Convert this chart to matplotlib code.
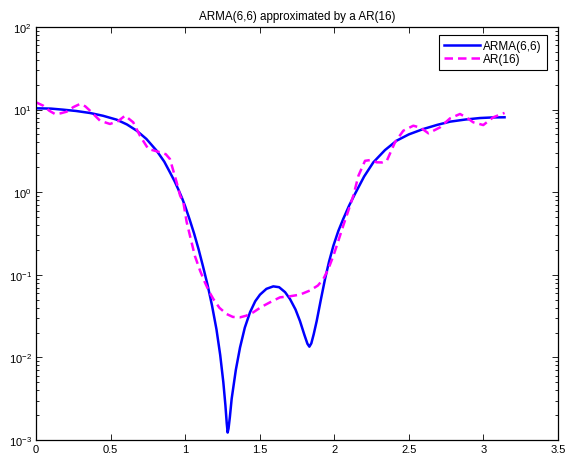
import numpy as np
import matplotlib
matplotlib.use("Agg")
import matplotlib.pyplot as plt
from matplotlib.ticker import FixedLocator, FuncFormatter, LogLocator, NullFormatter

plt.rcParams['font.family'] = ['Liberation Sans', 'DejaVu Sans']
plt.rcParams['mathtext.fontset'] = 'custom'
plt.rcParams['mathtext.rm'] = 'Liberation Sans'
plt.rcParams['mathtext.it'] = 'Liberation Sans'

title = "ARMA(6,6) approximated by a AR(16)"
labels = ["ARMA(6,6)", "AR(16)"]

# ARMA(6,6) spectrum (frequency, log10 value)
arma_x = [0.0, 0.1, 0.183, 0.27, 0.362, 0.45, 0.541, 0.61, 0.675, 0.74, 0.809, 0.86,
          0.898, 0.93, 0.954, 0.98, 1.0, 1.03, 1.06, 1.09, 1.12, 1.15, 1.18, 1.21,
          1.235, 1.256, 1.27, 1.279, 1.285, 1.291, 1.3, 1.312, 1.34, 1.368,
          1.40, 1.435, 1.47, 1.502, 1.545, 1.591, 1.63, 1.67, 1.703, 1.74, 1.77,
          1.80, 1.82, 1.833, 1.846, 1.862, 1.882, 1.91, 1.938, 1.965, 1.994, 2.027,
          2.06, 2.1, 2.139, 2.2, 2.262, 2.34, 2.418, 2.5, 2.597, 2.69, 2.776, 2.88,
          2.977, 3.06, 3.1416]
arma_log = [1.016, 1.012, 0.999, 0.983, 0.959, 0.925, 0.878, 0.82, 0.745, 0.645, 0.502,
            0.37, 0.241, 0.13, 0.035, -0.075, -0.17, -0.33, -0.50, -0.69, -0.90, -1.12,
            -1.37, -1.66, -1.97, -2.30, -2.58, -2.80, -2.91, -2.86, -2.72, -2.50, -2.15,
            -1.88, -1.64, -1.454, -1.32, -1.24, -1.17, -1.14, -1.15, -1.21, -1.293,
            -1.42, -1.56, -1.73, -1.835, -1.87, -1.83, -1.72, -1.56, -1.30, -1.05,
            -0.84, -0.648, -0.47, -0.324, -0.16, -0.02, 0.19, 0.362, 0.51, 0.624,
            0.70, 0.765, 0.815, 0.854, 0.88, 0.898, 0.905, 0.907]

# AR(16) spectrum (frequency, log10 value)
ar_x = [0.0, 0.049, 0.09, 0.127, 0.165, 0.206, 0.25, 0.295, 0.33, 0.362, 0.429, 0.496,
        0.55, 0.597, 0.652, 0.697, 0.753, 0.80, 0.832, 0.87, 0.898, 0.943, 0.966,
        0.988, 1.01, 1.065, 1.10, 1.132, 1.16, 1.188, 1.23, 1.278, 1.32, 1.368,
        1.41, 1.457, 1.51, 1.569, 1.636, 1.703, 1.77, 1.837, 1.89, 1.927, 1.96,
        1.994, 2.027, 2.06, 2.095, 2.128, 2.162, 2.206, 2.245, 2.284, 2.32, 2.352,
        2.407, 2.463, 2.53, 2.58, 2.631, 2.709, 2.776, 2.843, 2.89, 2.932, 2.999,
        3.066, 3.1416]
ar_log = [1.088, 1.047, 0.985, 0.947, 0.955, 0.975, 1.03, 1.068, 1.04, 0.987, 0.866,
          0.826, 0.86, 0.926, 0.846, 0.684, 0.523, 0.50, 0.483, 0.46, 0.402, 0.12,
          -0.04, -0.122, -0.36, -0.77, -0.95, -1.09, -1.20, -1.29, -1.40, -1.475,
          -1.51, -1.515, -1.495, -1.454, -1.39, -1.333, -1.273, -1.26, -1.24, -1.19,
          -1.13, -1.05, -0.93, -0.77, -0.59, -0.405, -0.22, -0.04, 0.2, 0.38, 0.39,
          0.362, 0.36, 0.38, 0.604, 0.745, 0.805, 0.78, 0.713, 0.785, 0.894, 0.947,
          0.90, 0.846, 0.813, 0.907, 0.96]

fig = plt.figure(figsize=(5.66, 4.60), dpi=100)
ax = fig.add_axes([36/566, 19/460, 522/566, 413/460])

ax.plot(arma_x, 10**np.array(arma_log), color='#0000ff', lw=1.8, label=labels[0],
        solid_joinstyle='round')
ax.plot(ar_x, 10**np.array(ar_log), color='#ff00ff', lw=1.8, ls=(0, (3.4, 2.0)),
        label=labels[1])

ax.set_yscale('log')
ax.set_xlim(0, 3.5)
ax.set_ylim(1e-3, 1e2)
ax.xaxis.set_major_locator(FixedLocator([0, 0.5, 1, 1.5, 2, 2.5, 3, 3.5]))
ax.xaxis.set_major_formatter(FuncFormatter(lambda v, p: ("%g" % v)))
ax.yaxis.set_major_locator(LogLocator(base=10, numticks=10))
ax.yaxis.set_minor_locator(LogLocator(base=10, subs=np.arange(2, 10), numticks=20))
ax.yaxis.set_minor_formatter(NullFormatter())

ax.tick_params(which='both', direction='in', top=True, right=True, labelsize=8,
               colors='black', width=0.6)
ax.tick_params(which='major', length=4, pad=3)
ax.tick_params(which='minor', length=2.2)
for s in ax.spines.values():
    s.set_linewidth(0.9)

ax.set_title(title, fontsize=8.4, pad=6)
leg = ax.legend(loc='upper right', bbox_to_anchor=(511/522, 405/413),
                borderaxespad=0, fontsize=8.5, frameon=True, fancybox=False,
                edgecolor='black', framealpha=1, handlelength=3.0,
                borderpad=0.45, labelspacing=0.05, handletextpad=0.3)
leg.get_frame().set_linewidth(0.8)

fig.savefig('out.png', dpi=100)
